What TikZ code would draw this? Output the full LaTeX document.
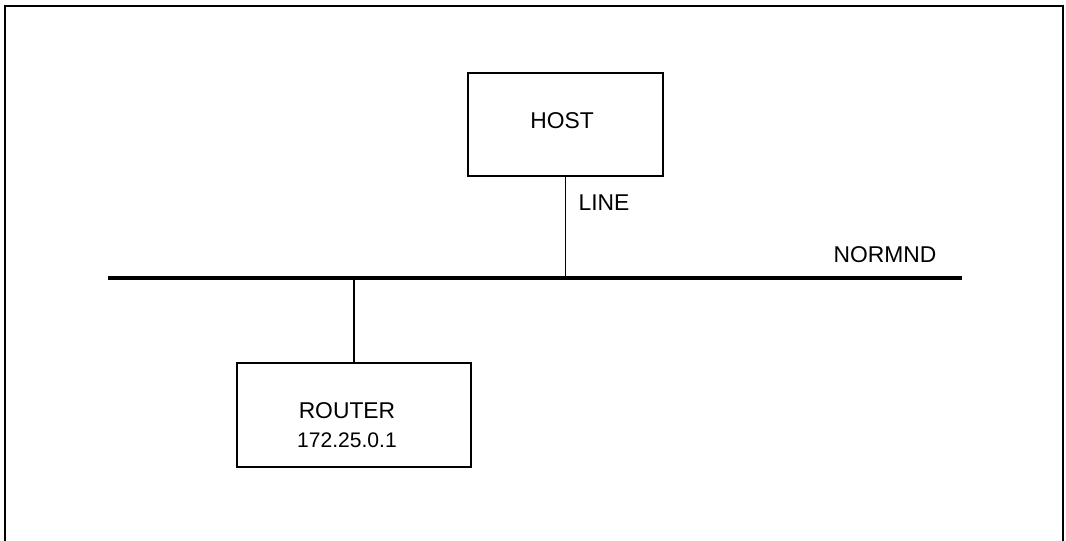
\documentclass[tikz,border=0pt]{standalone}
\usepackage{fontspec}
\setmainfont{Liberation Sans}
\usepackage{tikz}
\usetikzlibrary{positioning,calc}

\tikzset{
  netbox/.style={draw,line width=1.1pt,minimum width=#1,minimum height=2.07cm,
        font=\fontsize{13}{15}\selectfont,align=center,inner sep=0pt},
  netlink/.style={line width=1.1pt},
  netlabel/.style={font=\fontsize{13}{15}\selectfont,inner sep=0pt}
}

\begin{document}
\begin{tikzpicture}[x=0.02cm,y=-0.02cm]
  \useasboundingbox (0,0) rectangle (1066,541);
  % frame
  \draw[line width=1.1pt] (5,545) -- (5,6) -- (1063,6) -- (1063,545);

  % bus
  \coordinate (busL) at (108,278);
  \coordinate (busR) at (962,278);
  \draw[line width=2.6pt] (busL) -- (busR);
  \node[netlabel] (normnd) at (885,255) {NORMND};

  % host
  \node[netbox=3.9cm] (host) at (565.5,124.5) {\raisebox{-2pt}[0pt][0pt]{HOST\kern4pt}};
  \draw[netlink] (host.south) -- (host.south |- busL);
  \node[netlabel] (line) at (604,203) {LINE};

  % router
  \node[netbox=4.68cm] (router) at (354,415)
    {\raisebox{-18.5pt}[0pt][0pt]{\shortstack{ROUTER\\[5pt]{\fontsize{12}{14}\selectfont 172.25.0.1}}\kern8pt}};
  \draw[netlink] (router.north) -- (router.north |- busL);
\end{tikzpicture}
\end{document}
